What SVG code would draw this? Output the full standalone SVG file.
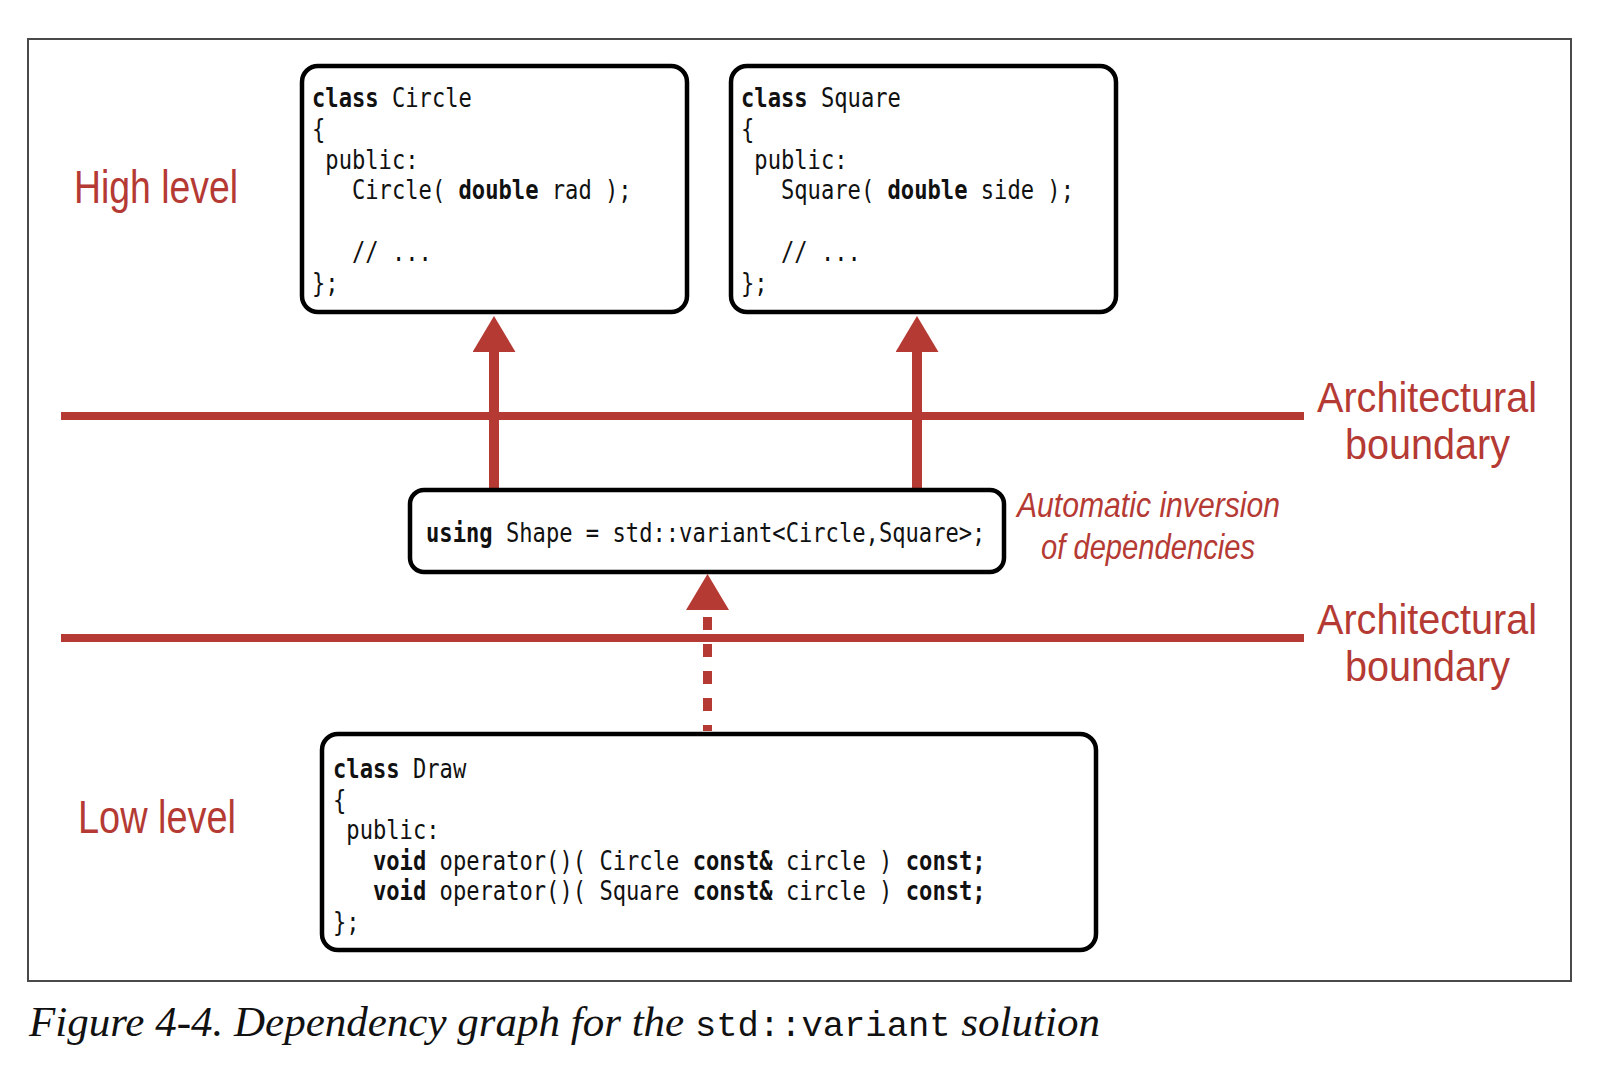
<svg xmlns="http://www.w3.org/2000/svg" width="1620" height="1068" viewBox="0 0 1620 1068">
<defs>
<style>
.frame{fill:none;stroke:#4a4a4a;stroke-width:2}
.box{fill:#fff;stroke:#000;stroke-width:4.5}
.code{font-family:"DejaVu Sans Mono","Liberation Mono",monospace;font-size:27px;fill:#111;white-space:pre}
.b{font-weight:bold}
.lvl{font-family:"Liberation Sans","Noto Sans",sans-serif;font-size:46px;fill:#b53a34}
.arch{font-family:"Liberation Sans","Noto Sans",sans-serif;font-size:42px;fill:#b53a34}
.note{font-family:"Liberation Sans","Noto Sans",sans-serif;font-style:italic;font-size:35px;fill:#b53a34}
.bound{stroke:#b53a34;stroke-width:8;fill:none}
.dep{stroke:#b53a34;stroke-width:10;fill:none}
.dash{stroke:#b53a34;stroke-width:9;fill:none;stroke-dasharray:13 14;stroke-dashoffset:7}
.cap{font-family:"Liberation Serif","DejaVu Serif",serif;font-style:italic;font-size:43px;fill:#111}
.capmono{font-family:"Liberation Mono","DejaVu Sans Mono",monospace;font-style:normal;font-size:35.5px}
</style>
<marker id="head" viewBox="0 0 36 43" markerWidth="36" markerHeight="43" refX="0" refY="21.5" orient="auto" markerUnits="userSpaceOnUse">
<path d="M0,0 L36,21.5 L0,43 Z" fill="#b53a34"/>
</marker>
</defs>
<rect width="1620" height="1068" fill="#fff"/>
<rect class="frame" x="28" y="39" width="1543" height="942"/>

<g id="boundaries">
<line class="bound" x1="61" y1="416" x2="1304" y2="416"/>
<line class="bound" x1="61" y1="638" x2="1304" y2="638"/>
</g>

<g id="connectors">
<path class="dep" d="M494,488 L494,352" marker-end="url(#head)"/>
<path class="dep" d="M917,488 L917,352" marker-end="url(#head)"/>
<path class="dash" d="M707.5,731 L707.5,610" marker-end="url(#head)"/>
</g>

<g id="label-high">
<text class="lvl" x="74" y="203" textLength="164" lengthAdjust="spacingAndGlyphs">High level</text>
</g>
<g id="label-low">
<text class="lvl" x="78" y="833" textLength="158" lengthAdjust="spacingAndGlyphs">Low level</text>
</g>
<g id="label-boundary-1">
<text class="arch" x="1317" y="412" textLength="220" lengthAdjust="spacingAndGlyphs">Architectural</text>
<text class="arch" x="1345" y="459" textLength="165" lengthAdjust="spacingAndGlyphs">boundary</text>
</g>
<g id="label-boundary-2">
<text class="arch" x="1317" y="634" textLength="220" lengthAdjust="spacingAndGlyphs">Architectural</text>
<text class="arch" x="1345" y="681" textLength="165" lengthAdjust="spacingAndGlyphs">boundary</text>
</g>
<g id="label-inversion">
<text class="note" x="1017" y="517" textLength="263" lengthAdjust="spacingAndGlyphs">Automatic inversion</text>
<text class="note" x="1041" y="559" textLength="214" lengthAdjust="spacingAndGlyphs">of dependencies</text>
</g>

<g id="node-circle">
<rect class="box" x="302" y="66" width="385" height="246" rx="16"/>
<g class="code" transform="translate(312,107) scale(0.82,1)">
<text xml:space="preserve" x="0" y="0"><tspan class="b">class</tspan> Circle</text>
<text xml:space="preserve" x="0" y="31">{</text>
<text xml:space="preserve" x="0" y="62"> public:</text>
<text xml:space="preserve" x="0" y="92">   Circle( <tspan class="b">double</tspan> rad );</text>
<text xml:space="preserve" x="0" y="154">   // ...</text>
<text xml:space="preserve" x="0" y="185">};</text>
</g>
</g>

<g id="node-square">
<rect class="box" x="731" y="66" width="385" height="246" rx="16"/>
<g class="code" transform="translate(741,107) scale(0.82,1)">
<text xml:space="preserve" x="0" y="0"><tspan class="b">class</tspan> Square</text>
<text xml:space="preserve" x="0" y="31">{</text>
<text xml:space="preserve" x="0" y="62"> public:</text>
<text xml:space="preserve" x="0" y="92">   Square( <tspan class="b">double</tspan> side );</text>
<text xml:space="preserve" x="0" y="154">   // ...</text>
<text xml:space="preserve" x="0" y="185">};</text>
</g>
</g>

<g id="node-shape">
<rect class="box" x="410" y="490" width="594" height="82" rx="14"/>
<g class="code" transform="translate(426,542) scale(0.82,1)">
<text xml:space="preserve" x="0" y="0"><tspan class="b">using</tspan> Shape = std::variant&lt;Circle,Square&gt;;</text>
</g>
</g>

<g id="node-draw">
<rect class="box" x="322" y="734" width="774" height="216" rx="16"/>
<g class="code" transform="translate(333,778) scale(0.82,1)">
<text xml:space="preserve" x="0" y="0"><tspan class="b">class</tspan> Draw</text>
<text xml:space="preserve" x="0" y="31">{</text>
<text xml:space="preserve" x="0" y="61"> public:</text>
<text xml:space="preserve" x="0" y="92">   <tspan class="b">void</tspan> operator()( Circle <tspan class="b">const&amp;</tspan> circle ) <tspan class="b">const;</tspan></text>
<text xml:space="preserve" x="0" y="122">   <tspan class="b">void</tspan> operator()( Square <tspan class="b">const&amp;</tspan> circle ) <tspan class="b">const;</tspan></text>
<text xml:space="preserve" x="0" y="153">};</text>
</g>
</g>

<g id="caption">
<text class="cap" x="29" y="1036">Figure 4-4. Dependency graph for the <tspan class="capmono">std::variant</tspan> solution</text>
</g>
</svg>
